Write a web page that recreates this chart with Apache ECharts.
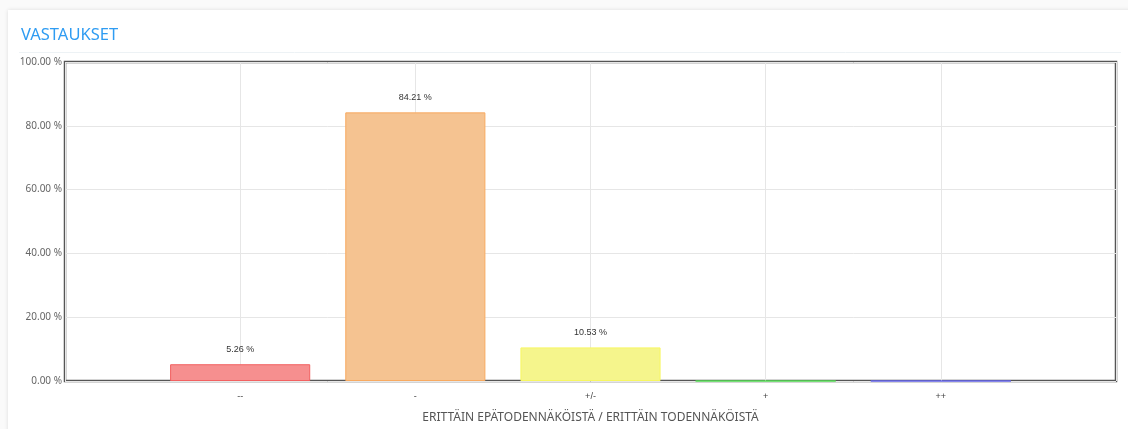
<!DOCTYPE html>
<html>
<head>
<meta charset="utf-8">
<script src="https://cdn.jsdelivr.net/npm/echarts@6/dist/echarts.min.js"></script>
<style>
  html, body { margin: 0; padding: 0; background: #fafafa; }
  #card {
    position: absolute; left: 8px; top: 10px; width: 1124px; height: 425px;
    background: #fff; box-shadow: 0 0 4px rgba(0,0,0,0.12);
  }
  #chart { position: absolute; left: 0; top: 0; width: 1128px; height: 429px; }
</style>
</head>
<body>
<div id="card"></div>
<div id="chart"></div>
<script>
// vastausjakauma
const categories = ['--', '-', '+/-', '+', '++'];
const values = [5.26, 84.21, 10.53, 0, 0];
const fillColors = ['#f68f8f', '#f5c391', '#f5f58c', '#66dd66', '#7777ee'];
const lineColors = ['#f26060', '#f8aa60', '#f7f760', '#55dd55', '#6666ee'];
const yTicks = [0, 20, 40, 60, 80, 100];

document.addEventListener('DOMContentLoaded', function () {
  const chart = echarts.init(document.getElementById('chart'));

  // tyhjä paikka kummallekin reunalle
  const xData = [''].concat(categories, ['']);
  const barData = [null].concat(values.map((v, i) => ({
    value: v,
    itemStyle: { color: fillColors[i], borderColor: lineColors[i], borderWidth: 1 }
  })), [null]);

  const option = {
    animation: false,
    title: {
      text: 'VASTAUKSET',
      left: 16,
      top: 22,
      textStyle: { color: '#2f9cf2', fontSize: 16.5, fontWeight: 'normal', fontFamily: 'Noto Sans' }
    },
    graphic: [{
      type: 'line',
      shape: { x1: 19, y1: 52.5, x2: 1121, y2: 52.5 },
      style: { stroke: '#edf2f5', lineWidth: 1 }
    }],
    grid: {
      left: 65, right: 12, top: 62, bottom: 48,
      outerBoundsMode: 'none',
      containLabel: false,
      show: true, borderColor: '#555', borderWidth: 2.5, backgroundColor: 'transparent'
    },
    xAxis: {
      type: 'category',
      data: xData,
      boundaryGap: false,
      name: 'ERITTÄIN EPÄTODENNÄKÖISTÄ / ERITTÄIN TODENNÄKÖISTÄ',
      nameLocation: 'middle',
      nameGap: 31,
      nameTextStyle: { color: '#555', fontSize: 12, fontFamily: 'Noto Sans' },
      axisLine: { show: false },
      axisTick: { show: false },
      axisLabel: { color: '#444', fontSize: 9, margin: 11, fontFamily: 'Liberation Sans' },
      splitLine: { show: true, lineStyle: { color: '#e6e6e6' } }
    },
    yAxis: {
      type: 'value',
      min: yTicks[0],
      max: yTicks[yTicks.length - 1],
      interval: 20,
      axisLine: { show: false },
      axisTick: { show: false },
      axisLabel: {
        color: '#666', fontSize: 10, margin: 3, fontFamily: 'Noto Sans',
        formatter: v => v.toFixed(2) + ' %'
      },
      splitLine: { lineStyle: { color: '#e6e6e6' } }
    },
    series: [{
      type: 'bar',
      data: barData,
      barWidth: '80%',
      label: {
        show: true,
        position: 'top',
        distance: 10,
        color: '#333',
        fontSize: 9,
        fontFamily: 'Liberation Sans',
        formatter: p => (p.value ? p.value.toFixed(2) + ' %' : '')
      }
    }]
  };
  chart.setOption(option);

  window.addEventListener('resize', function () {
    chart.resize();
  });
});
</script>
</body>
</html>
